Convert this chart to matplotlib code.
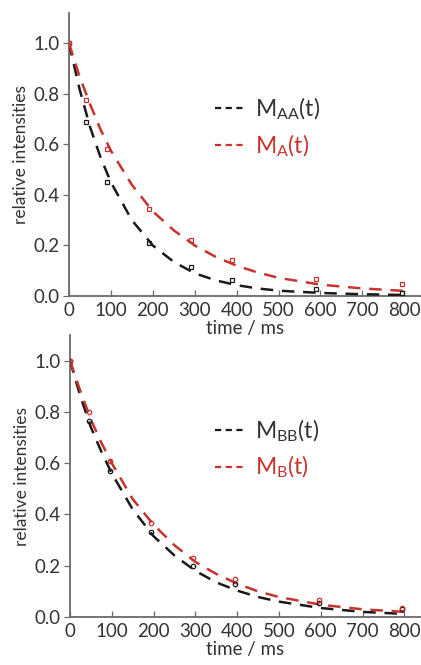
import numpy as np
import matplotlib
matplotlib.use('Agg')
import matplotlib.pyplot as plt

plt.rcParams['font.family'] = ['Lato', 'DejaVu Sans']
plt.rcParams['mathtext.fontset'] = 'custom'
plt.rcParams['mathtext.rm'] = 'Lato'
plt.rcParams['mathtext.it'] = 'Lato:italic'

# measured points (top: A, bottom: B)
t_top = [0, 40, 90, 190, 290, 390, 590, 795]
maa_pts = [1.0, 0.69, 0.45, 0.21, 0.115, 0.062, 0.027, 0.012]
ma_pts = [1.0, 0.775, 0.58, 0.345, 0.22, 0.142, 0.068, 0.047]

t_bot = [0, 45, 95, 195, 295, 395, 595, 795]
mbb_pts = [1.0, 0.765, 0.57, 0.33, 0.198, 0.13, 0.056, 0.03]
mb_pts = [1.0, 0.80, 0.61, 0.365, 0.23, 0.15, 0.066, 0.035]

# fitted curves
t_fit = [0, 25, 50, 75, 100, 150, 200, 250, 300, 350, 400, 450, 500, 600, 700, 800]
maa_fit = [1.0, 0.82, 0.67, 0.55, 0.45, 0.30, 0.20, 0.135, 0.09, 0.062, 0.043, 0.030, 0.021, 0.012, 0.007, 0.004]
ma_fit = [1.0, 0.87, 0.76, 0.66, 0.575, 0.44, 0.335, 0.26, 0.20, 0.155, 0.12, 0.093, 0.072, 0.045, 0.030, 0.020]
mbb_fit = [1.0, 0.86, 0.74, 0.645, 0.56, 0.42, 0.315, 0.24, 0.18, 0.135, 0.103, 0.078, 0.060, 0.035, 0.020, 0.012]
mb_fit = [1.0, 0.88, 0.77, 0.68, 0.60, 0.46, 0.36, 0.28, 0.215, 0.168, 0.13, 0.10, 0.078, 0.048, 0.030, 0.020]

black = '#1a1a1a'
red = '#c8332e'
grey = '#6a6a6a'
txt = '#333333'

fig = plt.figure(figsize=(4.21, 6.65), dpi=100)
ax1 = fig.add_axes([69/421, (665-296)/665, 1-69/421, (296-13)/665])
ax2 = fig.add_axes([70/421, (665-617)/665, 1-70/421, (617-335)/665])

panels = [
    (ax1, t_top, maa_pts, ma_pts, maa_fit, ma_fit, 's',
     r'M$_{\mathregular{AA}}$(t)', r'M$_{\mathregular{A}}$(t)', 1.12),
    (ax2, t_bot, mbb_pts, mb_pts, mbb_fit, mb_fit, 'o',
     r'M$_{\mathregular{BB}}$(t)', r'M$_{\mathregular{B}}$(t)', 1.10),
]

for ax, t, p1, p2, f1, f2, mk, lab1, lab2, ytop in panels:
    ax.plot(t_fit, f1, color=black, lw=1.8, dashes=(5, 3.5), label=lab1, zorder=3)
    ax.plot(t_fit, f2, color=red, lw=1.8, dashes=(5, 3.5), label=lab2, zorder=3)
    ax.plot(t, p1, mk, mfc='none', mec=black, ms=3.2, mew=0.9, zorder=4)
    ax.plot(t, p2, mk, mfc='none', mec=red, ms=3.2, mew=0.9, zorder=4)

    ax.set_xlim(0, 840)
    ax.set_ylim(0, ytop)
    ax.set_xticks(np.arange(0, 900, 100))
    ax.set_yticks([0.0, 0.2, 0.4, 0.6, 0.8, 1.0])
    ax.set_yticklabels(['0.0', '0.2', '0.4', '0.6', '0.8', '1.0'])
    for s in ['top', 'right']:
        ax.spines[s].set_visible(False)
    for s in ['left', 'bottom']:
        ax.spines[s].set_color(grey)
        ax.spines[s].set_linewidth(1.3)
    ax.tick_params(axis='x', direction='in', length=4, width=0.9, color=grey,
                   labelsize=13.5, labelcolor=txt, pad=4)
    ax.tick_params(axis='y', direction='out', length=4, width=0.9, color=grey,
                   labelsize=13.5, labelcolor=txt, pad=3)
    ax.set_xlabel('time / ms', fontsize=13.5, color=txt, labelpad=1)
    ax.set_ylabel('relative intensities', fontsize=12.5, color=txt, labelpad=3)

    leg = ax.legend(loc='upper left', bbox_to_anchor=(0.355, 0.78), frameon=False,
                    fontsize=16.5, handlelength=1.4, handletextpad=0.35, labelspacing=0.45)
    leg.get_texts()[0].set_color(txt)
    leg.get_texts()[1].set_color(red)
    for h in leg.get_lines():
        h.set_dashes((2.8, 2.0))
        h.set_linewidth(1.6)

fig.savefig('out.png', dpi=100)
